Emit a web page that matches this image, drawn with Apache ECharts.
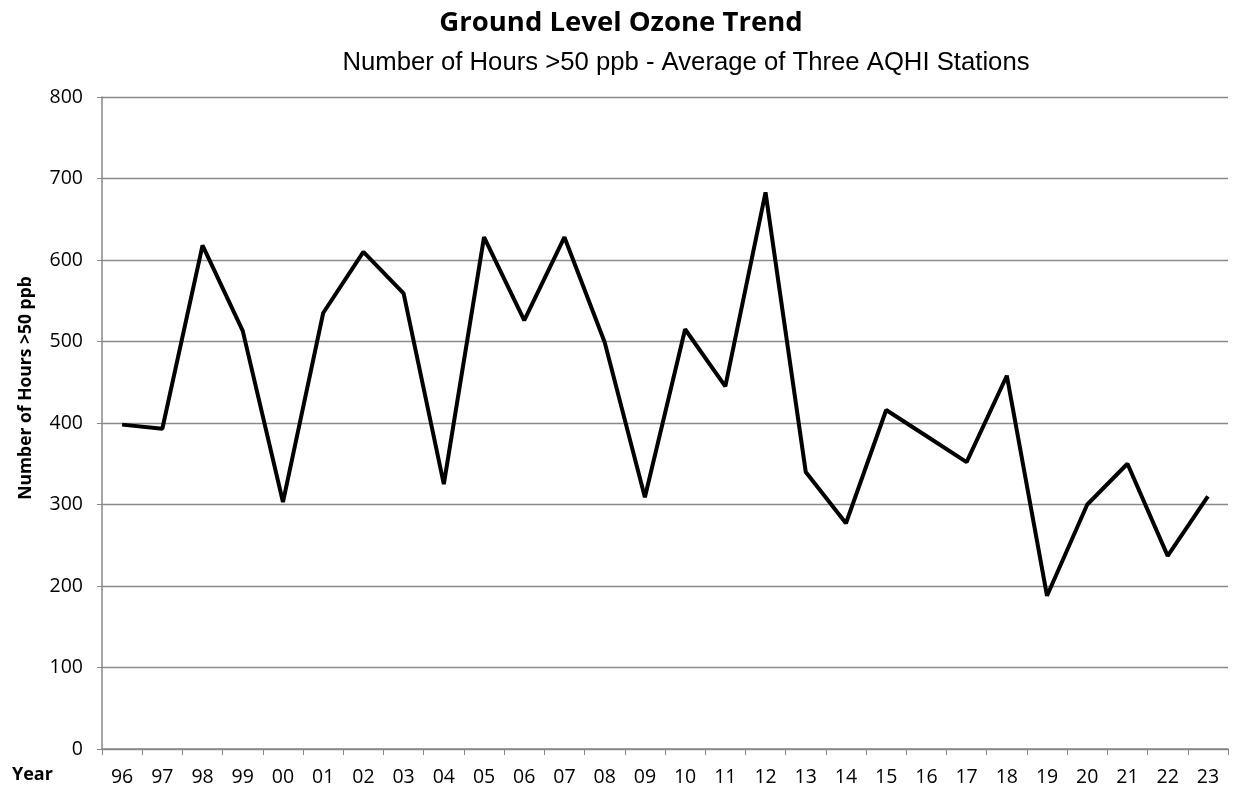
<!DOCTYPE html>
<html><head><meta charset="utf-8">
<script src="https://cdn.jsdelivr.net/npm/echarts@6/dist/echarts.min.js"></script>
<style>html,body{margin:0;padding:0;background:#fff}#c{width:1233px;height:789px}</style>
</head><body><div id="c"></div>
<script>
const years = ['96','97','98','99','00','01','02','03','04','05','06','07','08','09','10','11','12','13','14','15','16','17','18','19','20','21','22','23'];
const hours = [398,393,618,513,303,535,610,559,325,628,526,628,499,309,515,445,683,340,277,416,384,352,458,188,300,350,237,310];
const yTicks = [0,100,200,300,400,500,600,700,800];

const chart = echarts.init(document.getElementById('c'));
chart.setOption({
  animation:false,
  backgroundColor:'#fff',
  title:[
    {text:'Ground Level Ozone Trend', left:616, top:4, textAlign:'center',
     textStyle:{fontFamily:'Open Sans', fontWeight:'bold', fontSize:27.5, color:'#000'}},
    {text:'Number of Hours >50 ppb - Average of Three AQHI Stations', left:681, top:45, textAlign:'center',
     textStyle:{fontFamily:'Liberation Sans', fontWeight:'normal', fontSize:25.7, color:'#000'}}
  ],
  graphic:[
    {type:'text', left:12, top:766, style:{text:'Year', font:'bold 18px "Open Sans"', fill:'#000'}},
    {type:'text', x:26, y:388, rotation:Math.PI/2,
     style:{text:'Number of Hours >50 ppb', font:'bold 17.5px "Open Sans"', fill:'#000', align:'center', verticalAlign:'middle'}}
  ],
  grid:{left:102, right:5, top:97, bottom:40},
  xAxis:{type:'category', data:years, boundaryGap:true,
    axisLine:{lineStyle:{color:'#888', width:1.5}},
    axisTick:{show:true, length:6, inside:false, lineStyle:{color:'#888'}},
    axisLabel:{color:'#000', fontFamily:'Open Sans', fontSize:19.5, margin:18},
    splitLine:{show:false}},
  yAxis:{type:'value', min:0, max:800, interval:100,
    axisLine:{show:true, lineStyle:{color:'#888', width:1.5}},
    axisTick:{show:true, length:5, lineStyle:{color:'#888'}},
    axisLabel:{color:'#000', fontFamily:'Open Sans', fontSize:19.5, margin:19,
      formatter:v=>yTicks.includes(v)?String(v):''},
    splitLine:{show:true, lineStyle:{color:'#8a8a8a', width:1.3}}},
  series:[{type:'line', data:hours, symbol:'none', lineStyle:{color:'#000', width:4}}]
});
</script></body></html>
